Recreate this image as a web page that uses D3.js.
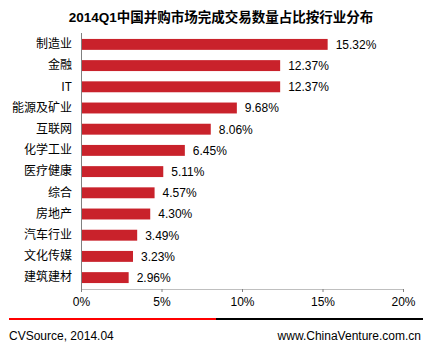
<!DOCTYPE html>
<html><head><meta charset="utf-8">
<script src="https://cdn.jsdelivr.net/npm/d3@7"></script>
<style>
html,body{margin:0;padding:0;background:#fff;}
svg{display:block;}
text{font-family:"Liberation Sans",Arial,"Noto Sans CJK SC",sans-serif;}
</style></head>
<body>
<script>
const title = "2014Q1中国并购市场完成交易数量占比按行业分布";
const categories = ["制造业","金融","IT","能源及矿业","互联网","化学工业","医疗健康","综合","房地产","汽车行业","文化传媒","建筑建材"];
const values = [15.32,12.37,12.37,9.68,8.06,6.45,5.11,4.57,4.30,3.49,3.23,2.96];
const xTicks = [0,5,10,15,20];
const sourceText = "CVSource, 2014.04";
const siteText = "www.ChinaVenture.com.cn";

const W = 432, H = 346;
const svg = d3.select("body").append("svg").attr("width", W).attr("height", H);

const x = d3.scaleLinear().domain([0,20]).range([81,403]);
const y = d3.scaleBand().domain(categories).range([33,289]).paddingInner(0.485).paddingOuter(0.28);

svg.append("text").attr("x", 221).attr("y", 22).attr("text-anchor","middle")
  .style("font-size","13.5px").style("font-weight","bold").attr("fill","#000")
  .style("font-family",'"Liberation Sans",Arial,"Noto Sans CJK SC",sans-serif')
  .text(title);

// bars
svg.selectAll("rect.bar").data(values).enter().append("rect").attr("class","bar")
  .attr("x", x(0)).attr("y", (d,i)=>y(categories[i]))
  .attr("width", d=>x(d)-x(0)).attr("height", y.bandwidth())
  .attr("fill","#C9222B");

// value labels
svg.selectAll("text.val").data(values).enter().append("text").attr("class","val")
  .attr("x", d=>x(d)+8).attr("y", (d,i)=>y(categories[i])+y.bandwidth()/2)
  .attr("dy","0.36em").style("font-size","12px").attr("fill","#000")
  .text(d=>d.toFixed(2)+"%");

// y axis
const yAxis = d3.axisLeft(y).tickSize(0).tickPadding(9);
const gy = svg.append("g").attr("transform",`translate(${x(0)},0)`).call(yAxis);
gy.select(".domain").attr("stroke","#808080").attr("d","M0.5,33V289");
gy.selectAll("text").style("font-size","12px").attr("fill","#000")
  .style("font-family",'"Noto Sans CJK SC","Liberation Sans",sans-serif');

// x axis
const xAxis = d3.axisBottom(x).tickValues(xTicks).tickSize(3).tickPadding(5).tickFormat(d=>d+"%");
const gx = svg.append("g").attr("transform","translate(0,289)").call(xAxis);
gx.select(".domain").attr("stroke","#BFBFBF").attr("d",`M${x(0)},0.5H${x(20)}`);
gx.selectAll(".tick line").attr("stroke","#808080");
gx.selectAll("text").style("font-size","12px").attr("fill","#000");

// footer line
svg.append("rect").attr("x",9).attr("y",318).attr("width",207).attr("height",2).attr("fill","#FF0000");
svg.append("rect").attr("x",216).attr("y",318).attr("width",207).attr("height",2).attr("fill","#000");

svg.append("text").attr("x",9).attr("y",340).style("font-size","12px").attr("fill","#000").text(sourceText);
svg.append("text").attr("x",421).attr("y",340).attr("text-anchor","end").style("font-size","12px").attr("fill","#000").text(siteText);
</script>
</body></html>
